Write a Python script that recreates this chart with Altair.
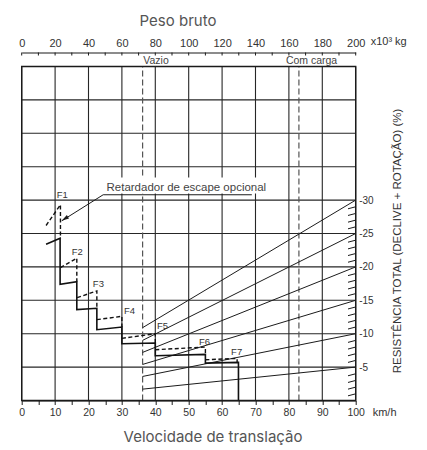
import altair as alt
import pandas as pd

# ---------------- data ----------------
speed_ticks = list(range(0, 101, 5))          # km/h (bottom axis)
weight_ticks = list(range(0, 201, 10))        # x10^3 kg (top axis, 200 t <-> 100 km/h)
grid_speed = list(range(0, 101, 10))
grid_resist = list(range(0, 51, 5))
resist_labels = [5, 10, 15, 20, 25, 30]
diag_start = [1.7, 3.6, 5.4, 7.2, 9.0, 10.9]  # value of each grade line at the "Vazio" line
minor_resist = [k for k in range(1, 30) if k % 5]

weight_names = ["Vazio", "Com carga"]
weight_speed = [36.2, 83.0]
weight_label_speed = [36.4, 79.1]

# standard retarder (solid)
std_speed = [7.3, 11.5, 11.5, 16.5, 16.5, 22.5, 22.5, 30.0, 30.0, 40.0, 40.0, 55.0, 55.0, 64.9, 64.9]
std_resist = [23.4, 24.3, 17.4, 17.8, 13.6, 13.8, 10.6, 11.0, 8.5, 8.6, 6.7, 6.9, 5.6, 5.7, 0.0]

# optional escape retarder (dashed)
esc_gear = ["F1"] * 3 + ["F2"] * 3 + ["F3"] * 3 + ["F4"] * 3 + ["F5"] * 3 + ["F6"] * 3 + ["F7"] * 3
esc_speed = [7.3, 11.6, 11.6, 11.6, 16.5, 16.5, 16.6, 22.5, 22.5, 22.5, 30.0, 30.0,
             30.0, 40.0, 40.0, 40.0, 55.0, 55.0, 55.0, 64.5, 64.5]
esc_resist = [26.2, 29.3, 24.3, 19.9, 21.3, 17.8, 15.4, 16.4, 13.8, 12.1, 12.6, 11.0,
              9.3, 10.0, 8.6, 7.6, 8.0, 6.9, 6.1, 6.3, 5.7]

gear_names = ["F1", "F2", "F3", "F4", "F5", "F6", "F7"]
gear_label_speed = [10.5, 15.0, 21.3, 30.6, 40.5, 53.1, 62.7]
gear_label_resist = [30.8, 22.3, 17.4, 13.4, 11.2, 8.8, 7.3]

annot_text = ["Retardador de escape opcional"]
annot_speed = [25.4]
annot_resist = [31.8]
mask_speed = [24.5, 73.5]
mask_resist = [31.0, 33.4]
leader_speed = [68.9, 24.4, 12.0]
leader_resist = [30.8, 30.8, 26.9]
arrow_speed = [12.9]
arrow_resist = [27.2]

speed_unit = "km/h"
weight_unit = "x10³ kg"

# ---------------- chart ----------------
W, H = 334, 334
xs = alt.Scale(domain=[0, 100], nice=False, zero=False)
ys = alt.Scale(domain=[0, 50], nice=False, zero=False)
FONT = "Liberation Sans"
TFONT = "Inter"
INK = "#1a1a1a"
GRID = "#262626"

vgrid = alt.Chart(pd.DataFrame({"s": grid_speed})).mark_rule(color=GRID, strokeWidth=1.1).encode(
    x=alt.X("s:Q", scale=xs, axis=alt.Axis(
        orient="bottom", values=speed_ticks,
        labelExpr="datum.value % 10 == 0 ? datum.label : ''",
        grid=False, domain=True, domainColor=INK, domainWidth=1.2,
        ticks=True, tickSize=4, tickColor=INK, labelFlush=False,
        labelFont=FONT, labelFontSize=10.5, labelColor="#333", labelPadding=3,
        title="Velocidade de translação", titleFont=TFONT, titleFontSize=15,
        titleFontWeight="normal", titleColor="#555", titleX=190.8, titleY=41,
        titleBaseline="alphabetic", titleAlign="center")),
    y=alt.Y(datum=0, scale=ys, axis=None),
    y2=alt.datum(50),
)

hgrid = alt.Chart(pd.DataFrame({"r": grid_resist})).mark_rule(color=GRID, strokeWidth=1.1).encode(
    y=alt.Y("r:Q", scale=ys, axis=alt.Axis(
        orient="right", values=resist_labels, labelExpr="'-' + datum.label",
        ticks=False, domain=False, grid=False, labelPadding=3,
        labelFont=FONT, labelFontSize=10, labelColor="#333",
        title="RESISTÊNCIA TOTAL (DECLIVE + ROTAÇÃO) (%)", titleFont=FONT,
        titleFontSize=11.5, titleFontWeight="normal", titleColor="#333",
        titleAngle=270, titleX=42, titleY=174, titleAlign="center",
        titleBaseline="middle")),
    x=alt.X(datum=0, scale=xs, axis=None),
    x2=alt.datum(100),
)

top = alt.Chart(pd.DataFrame({"w": weight_ticks})).transform_calculate(
    pos="datum.w / 2"
).mark_rule(color=INK, strokeWidth=1).encode(
    x=alt.X("pos:Q", scale=xs, axis=alt.Axis(
        orient="top", offset=14, values=[w / 2 for w in weight_ticks],
        labelExpr="datum.value % 10 == 0 ? format(datum.value * 2, 'd') : ''",
        ticks=False, tickSize=0, domain=True, domainColor=INK, domainWidth=1.2,
        grid=False, labelFlush=False, labelPadding=4,
        labelFont=FONT, labelFontSize=11, labelColor="#333",
        title="Peso bruto", titleFont=TFONT, titleFontSize=15,
        titleFontWeight="normal", titleColor="#555", titleX=155.8,
        titlePadding=9, titleAlign="center")),
    y=alt.value(-14),
    y2=alt.value(-11),
)

wdf = pd.DataFrame({"name": weight_names, "s": weight_speed, "ls": weight_label_speed})
wlines = alt.Chart(wdf).mark_rule(color="#555", strokeWidth=1.2, strokeDash=[6, 3]).encode(
    x=alt.X("s:Q", scale=xs, axis=None),
    y=alt.Y(datum=0, scale=ys, axis=None),
    y2=alt.datum(50),
)
wtext = alt.Chart(wdf).mark_text(align="left", baseline="alphabetic", dy=-2.5,
                                 font=FONT, fontSize=10.5, color="#444").encode(
    x=alt.X("ls:Q", scale=xs, axis=None),
    y=alt.Y(datum=50, scale=ys, axis=None),
    text="name:N",
)

mask = alt.Chart(pd.DataFrame({"x0": [mask_speed[0]], "x1": [mask_speed[1]],
                               "y0": [mask_resist[0]], "y1": [mask_resist[1]]})).mark_rect(
    fill="white").encode(
    x=alt.X("x0:Q", scale=xs, axis=None), x2="x1:Q",
    y=alt.Y("y0:Q", scale=ys, axis=None), y2="y1:Q",
)

diag_rows = []
for g, d0 in zip(resist_labels, diag_start):
    diag_rows.append({"g": g, "s": weight_speed[0], "r": d0})
    diag_rows.append({"g": g, "s": 100, "r": g})
diag = alt.Chart(pd.DataFrame(diag_rows)).mark_line(color=INK, strokeWidth=1).encode(
    x=alt.X("s:Q", scale=xs, axis=None),
    y=alt.Y("r:Q", scale=ys, axis=None),
    detail="g:N",
)

minor = alt.Chart(pd.DataFrame({"k": minor_resist})).transform_calculate(
    k2="datum.k - 0.3"
).mark_rule(color=INK, strokeWidth=1).encode(
    x=alt.X(datum=100, scale=xs, axis=None),
    x2=alt.datum(97.7),
    y=alt.Y("k:Q", scale=ys, axis=None),
    y2="k2:Q",
)

std = alt.Chart(pd.DataFrame({"s": std_speed, "r": std_resist, "i": range(len(std_speed))})).mark_line(
    color="#111", strokeWidth=1.6).encode(
    x=alt.X("s:Q", scale=xs, axis=None),
    y=alt.Y("r:Q", scale=ys, axis=None),
    order="i:Q",
)

esc = alt.Chart(pd.DataFrame({"g": esc_gear, "s": esc_speed, "r": esc_resist,
                              "i": range(len(esc_speed))})).mark_line(
    color="#111", strokeWidth=1.4, strokeDash=[4, 2.5]).encode(
    x=alt.X("s:Q", scale=xs, axis=None),
    y=alt.Y("r:Q", scale=ys, axis=None),
    detail="g:N",
    order="i:Q",
)

gears = alt.Chart(pd.DataFrame({"n": gear_names, "s": gear_label_speed, "r": gear_label_resist})).mark_text(
    align="left", baseline="middle", font=FONT, fontSize=9.5, color="#333").encode(
    x=alt.X("s:Q", scale=xs, axis=None),
    y=alt.Y("r:Q", scale=ys, axis=None),
    text="n:N",
)

leader = alt.Chart(pd.DataFrame({"s": leader_speed, "r": leader_resist, "i": [0, 1, 2]})).mark_line(
    color=INK, strokeWidth=1).encode(
    x=alt.X("s:Q", scale=xs, axis=None),
    y=alt.Y("r:Q", scale=ys, axis=None),
    order="i:Q",
)
arrow = alt.Chart(pd.DataFrame({"s": arrow_speed, "r": arrow_resist})).mark_point(
    shape="M0,-1L0.55,1L-0.55,1Z", filled=True, color=INK, opacity=1, size=55, angle=238).encode(
    x=alt.X("s:Q", scale=xs, axis=None),
    y=alt.Y("r:Q", scale=ys, axis=None),
)
annot = alt.Chart(pd.DataFrame({"t": annot_text, "s": annot_speed, "r": annot_resist})).mark_text(
    align="left", baseline="middle", font=FONT, fontSize=11.5, color="#444").encode(
    x=alt.X("s:Q", scale=xs, axis=None),
    y=alt.Y("r:Q", scale=ys, axis=None),
    text="t:N",
)

frame = alt.Chart(pd.DataFrame({"x0": [0], "x1": [100], "y0": [0], "y1": [50]})).mark_rect(
    fill="transparent", stroke=INK, strokeWidth=1.4).encode(
    x=alt.X("x0:Q", scale=xs, axis=None), x2="x1:Q",
    y=alt.Y("y0:Q", scale=ys, axis=None), y2="y1:Q",
)

unit_bottom = alt.Chart(pd.DataFrame({"t": [speed_unit], "s": [100]})).mark_text(
    align="left", baseline="middle", font=FONT, fontSize=11, color="#333", dx=17).encode(
    x=alt.X("s:Q", scale=xs, axis=None),
    y=alt.value(346.5),
    text="t:N",
)
unit_top = alt.Chart(pd.DataFrame({"t": [weight_unit], "s": [100]})).mark_text(
    align="left", baseline="middle", font=FONT, fontSize=11, color="#333", dx=15).encode(
    x=alt.X("s:Q", scale=xs, axis=None),
    y=alt.value(-24.5),
    text="t:N",
)

chart = alt.layer(
    vgrid, hgrid, top, wlines, mask, diag, minor, std, esc, gears, leader, arrow, annot,
    wtext, frame, unit_bottom, unit_top
).resolve_axis(x="independent", y="independent").properties(
    width=W, height=H,
    autosize=alt.AutoSizeParams(type="none"),
    padding={"left": 13.7, "top": 58.5, "right": 60, "bottom": 45},
).configure_view(stroke="transparent")

chart.save("out.html", embed_options={"renderer": "svg", "actions": False})
